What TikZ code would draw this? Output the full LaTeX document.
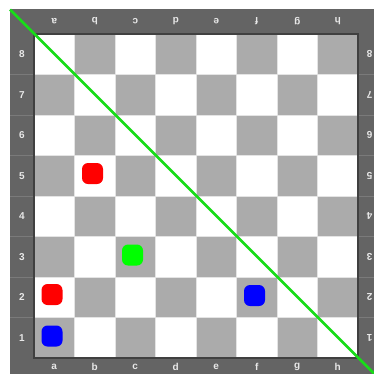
\documentclass[tikz,border=0pt]{standalone}
\usepackage{fontspec}
\setmainfont{Liberation Sans}
\definecolor{framegray}{HTML}{646464}
\definecolor{framelinec}{HTML}{7A7A7A}
\definecolor{darksq}{HTML}{ABABAB}
\definecolor{labelc}{HTML}{E8E8E8}
\definecolor{gridc}{HTML}{E4E4E4}
\definecolor{diag}{HTML}{18DC18}
\begin{document}
\begin{tikzpicture}[x=1pt,y=-1pt,
  lbl/.style={text=labelc,font=\bfseries\fontsize{10}{12}\selectfont,inner sep=0pt},
  sq/.style={draw=gridc,line width=0.8pt},
  piece/.style={minimum size=21pt,rounded corners=6pt,inner sep=0pt}]
\useasboundingbox (0,0) rectangle (374,373);
\clip (0,0) rectangle (374,373);
\fill[white] (0,0) rectangle (374,373);
% frame
\fill[framegray] (10,9) rectangle (382,381);
\foreach \j in {1,...,7}{
  \draw[framelinec,line width=0.6pt] (10,{34+40.5*\j}) -- (34,{34+40.5*\j});
  \draw[framelinec,line width=0.6pt] (358,{34+40.5*\j}) -- (382,{34+40.5*\j});
}
% squares
\foreach \i in {0,...,7}{
  \foreach \j in {0,...,7}{
    \pgfmathtruncatemacro\p{mod(\i+\j,2)}
    \ifnum\p=1
      \filldraw[sq,fill=darksq] ({34+40.5*\i},{34+40.5*\j}) rectangle ++(40.5,40.5);
    \else
      \filldraw[sq,fill=white] ({34+40.5*\i},{34+40.5*\j}) rectangle ++(40.5,40.5);
    \fi
  }
}
\draw[line width=1.2pt,black!75] (34,34) rectangle (358,358);
% labels
\foreach \l [count=\k from 0] in {a,b,c,d,e,f,g,h}{
  \node[lbl] (bot\l) at ({34+40.5*\k+20.25},366.5) {\l};
  \node[lbl,rotate=180] (top\l) at ({34+40.5*\k+20.25},21.5) {\l};
}
\foreach \n [count=\k from 0] in {8,7,6,5,4,3,2,1}{
  \node[lbl] (left\n) at (22,{34+40.5*\k+20.25}) {\n};
  \node[lbl,rotate=180] (right\n) at (369.5,{34+40.5*\k+20.25}) {\n};
}
% pieces
\node[piece,fill=red] (pb5) at (92.5,173.5) {};
\node[piece,fill=green] (pc3) at (132.5,255) {};
\node[piece,fill=red] (pa2) at (52,294.5) {};
\node[piece,fill=blue] (pf2) at (254.5,295.5) {};
\node[piece,fill=blue] (pa1) at (52,336) {};
% diagonal
\coordinate (dstart) at (10,9.5);
\coordinate (dend) at (385,384.5);
\draw[diag,line width=2.6pt] (dstart) -- (dend);
\end{tikzpicture}
\end{document}
